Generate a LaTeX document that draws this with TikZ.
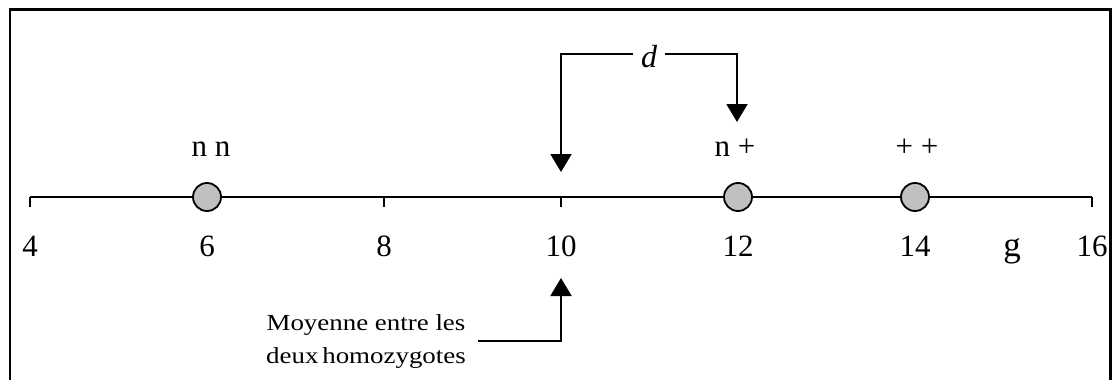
\documentclass[tikz,border=0pt]{standalone}
\usepackage{fontspec}
\setmainfont{Liberation Serif}
\newfontfamily\widefont[FakeStretch=1.17]{Liberation Serif}
\usetikzlibrary{arrows.meta}
\definecolor{dotgray}{RGB}{192,192,192}
\begin{document}
\begin{tikzpicture}[x=1pt,y=-1pt,
  numlab/.style={font=\fontsize{31}{34}\selectfont, anchor=base, inner sep=0pt},
  dot/.style={circle, draw, line width=1.8pt, fill=dotgray, minimum size=28pt, inner sep=0pt},
  axisline/.style={line width=1.8pt},
  arr/.style={line width=2pt, -{Triangle[length=18pt,width=21pt]}},
  frameline/.style={line width=2.5pt}]
\useasboundingbox (0,0) rectangle (1114,380);
\clip (0,0) rectangle (1114,380);
\draw[frameline] (10,9.5) rectangle (1110.5,420);

% axis
\coordinate (a4) at (30,197);
\coordinate (a16) at (1092,197);
\draw[axisline] (a4) -- (a16);
\foreach \v/\x in {4/30,6/207,8/384,10/561,12/738,14/915,16/1092}{
  \coordinate (t\v) at (\x,197);
  \coordinate (tb\v) at (\x,207);
  \draw[axisline] (t\v) -- (tb\v);
  \node[numlab] (n\v) at (\x,256) {\v};
}
\node[numlab, font=\fontsize{35}{38}\selectfont] (g) at (1012,256) {g};

% genotypes
\node[dot] (dnn) at (207,197) {};
\node[dot] (dnp) at (738,197) {};
\node[dot] (dpp) at (915,197) {};
\node[numlab] (lnn) at (211,156) {n n};
\node[numlab] (lnp) at (735,156) {n +};
\node[numlab] (lpp) at (917,156) {+ +};

% d bracket
\node[font=\fontsize{32}{34}\selectfont\itshape, inner xsep=8pt, inner ysep=0pt,
      text height=26pt, text depth=0pt] (d) at (649,54) {d};
\coordinate (c10top) at (561,172);
\coordinate (c12top) at (737,122);
\draw[arr] (d.west) -| (c10top);
\draw[arr] (d.east) -| (c12top);

% bottom label
\node[font=\widefont\fontsize{23}{33}\selectfont, align=center, inner xsep=12pt, inner ysep=0pt]
  (moy) at (366,341) {Moyenne entre les\\deux\,homozygotes};
\coordinate (c10bot) at (561,278);
\draw[arr] (moy.east) -| (c10bot);
\end{tikzpicture}
\end{document}
